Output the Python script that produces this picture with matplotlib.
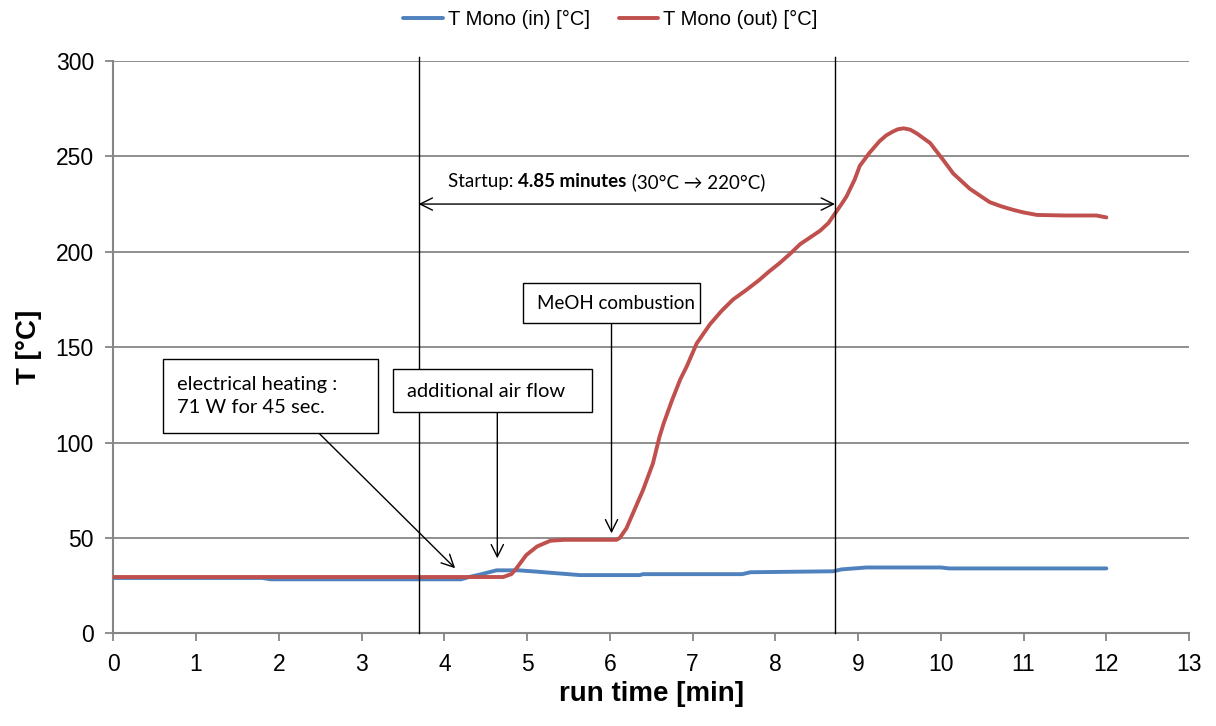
import matplotlib
matplotlib.use("Agg")
import matplotlib.pyplot as plt
from matplotlib.patches import Rectangle

# Reactor monolith temperatures during start-up
t_in = [0, 1.8, 1.9, 4.2, 4.3, 4.45, 4.63, 4.9, 5.12, 5.32, 5.64, 6.36, 6.4,
        7.6, 7.7, 8.7, 8.8, 9.1, 10.0, 10.1, 12.0]
T_in = [29, 29, 28.3, 28.3, 29.5, 31, 33, 33, 32.3, 31.6, 30.5, 30.5, 31,
        31, 32, 32.5, 33.5, 34.5, 34.5, 34, 34]

t_out = [0, 1, 2, 3, 4, 4.5, 4.71, 4.81, 4.87, 4.99, 5.12, 5.28, 5.45, 5.8,
         6.0, 6.08, 6.12, 6.2, 6.28, 6.4, 6.52, 6.6, 6.65, 6.75, 6.85, 6.93,
         7.05, 7.21, 7.35, 7.49, 7.65, 7.8, 7.92, 8.05, 8.18, 8.3, 8.42, 8.54,
         8.64, 8.72, 8.8, 8.86, 8.96, 9.02, 9.08, 9.14, 9.2, 9.26, 9.34, 9.42,
         9.48, 9.55, 9.63, 9.71, 9.79, 9.87, 9.95, 10.03, 10.15, 10.25, 10.35,
         10.47, 10.59, 10.73, 10.87, 11.0, 11.16, 11.5, 11.88, 12.0]
T_out = [29.5, 29.5, 29.5, 29.5, 29.5, 29.5, 29.5, 31, 34, 41, 45.5, 48.5,
         49, 49, 49, 49, 50, 55, 63, 75, 89, 103, 110, 122, 133, 140,
         152, 162, 169, 175, 180, 185, 189.5, 194, 199, 204, 207.5, 211,
         215, 220, 225, 229, 238, 245, 248.5, 252, 255, 258, 261, 263,
         264.2, 264.7, 264, 262, 259.5, 257, 252.5, 248, 241, 237, 233,
         229.5, 226, 223.8, 222, 220.6, 219.3, 219, 219, 218]

series_labels = ["T Mono (in) [°C]", "T Mono (out) [°C]"]
x_ticks = list(range(0, 14))
y_ticks = list(range(0, 301, 50))

startup_start = 3.69
startup_end = 8.72

plt.rcParams['font.family'] = ['Liberation Sans', 'DejaVu Sans']
note_font = ['Lato', 'DejaVu Sans']

fig = plt.figure(figsize=(12.16, 7.26), dpi=100)
ax = fig.add_axes([0.0932, 0.1277, 0.9848 - 0.0932 - 0.0069, 0.916 - 0.1277])

grid_c = '#868686'
for y in y_ticks[1:]:
    ax.axhline(y, color=grid_c, lw=1.3, zorder=1)

l_in, = ax.plot(t_in, T_in, color='#4F81BD', lw=2.8, zorder=3,
                solid_capstyle='round', solid_joinstyle='round')
l_out, = ax.plot(t_out, T_out, color='#C0504D', lw=2.8, zorder=4,
                 solid_capstyle='round', solid_joinstyle='round')

ax.set_xlim(0, 13)
ax.set_ylim(0, 300)
ax.set_xticks(x_ticks)
ax.set_yticks(y_ticks)
ax.tick_params(axis='both', labelsize=16.5, color=grid_c, width=1.3,
               length=6, direction='out', pad=8)
for side in ('top', 'right'):
    ax.spines[side].set_visible(False)
for side in ('left', 'bottom'):
    ax.spines[side].set_color(grid_c)
    ax.spines[side].set_linewidth(1.5)

ax.set_xlabel("run time [min]", fontsize=20, fontweight='bold', labelpad=4)
ax.set_ylabel("T [°C]", fontsize=20, fontweight='bold', labelpad=10)

# start-up window markers
for xv in (startup_start, startup_end):
    ax.axvline(xv, ymin=0, ymax=1.007, color='black', lw=1.0, zorder=5,
               clip_on=False)
ax.annotate("", xy=(startup_start, 225), xytext=(startup_end, 225),
            arrowprops=dict(arrowstyle='<->', color='black', lw=1.0,
                            mutation_scale=22, shrinkA=0, shrinkB=0),
            zorder=6)

# Startup label in mixed weights
fig.canvas.draw()
renderer = fig.canvas.get_renderer()
parts = [("Startup: ", 'normal'), ("4.85 minutes", 'bold'),
         (" (30°C → 220°C)", 'normal')]
x0 = 4.045
for txt, w in parts:
    t = ax.text(x0, 236.7, txt, fontsize=13.5, fontweight=w, family=note_font,
                va='center', ha='left', zorder=7)
    bb = t.get_window_extent(renderer=renderer)
    x1 = ax.transData.inverted().transform((bb.x1, bb.y0))[0]
    x0 = x1

# boxed notes
boxes = [
    ((0.60, 105.1), 3.20 - 0.60, 143.8 - 105.1,
     (0.766, 124.5), "electrical heating :\n71 W for 45 sec.", 14.5),
    ((3.38, 116.0), 5.78 - 3.38, 138.5 - 116.0,
     (3.545, 126.6), "additional air flow", 14.5),
    ((4.95, 162.7), 7.09 - 4.95, 183.6 - 162.7,
     (5.115, 173.0), "MeOH combustion", 13.5),
]
for (bx, by), bw, bh, (tx, ty), txt, fs in boxes:
    ax.add_patch(Rectangle((bx, by), bw, bh, facecolor='white',
                           edgecolor='black', lw=1.0, zorder=8))
    ax.text(tx, ty, txt, fontsize=fs, family=note_font, va='center',
            ha='left', linespacing=1.45, zorder=9)

arrow_kw = dict(arrowstyle='->', color='black', lw=1.0, mutation_scale=22,
                shrinkA=0, shrinkB=0)
ax.annotate("", xy=(4.13, 34.1), xytext=(2.48, 105.1),
            arrowprops=arrow_kw, zorder=7)
ax.annotate("", xy=(4.64, 39.3), xytext=(4.64, 116.0),
            arrowprops=arrow_kw, zorder=7)
ax.annotate("", xy=(6.02, 52.4), xytext=(6.02, 162.7),
            arrowprops=arrow_kw, zorder=7)

fig.legend([l_in, l_out], series_labels, loc='center',
           bbox_to_anchor=(0.502, 0.973), ncol=2, frameon=False,
           fontsize=14.5, handlelength=1.95, handletextpad=0.25,
           columnspacing=1.45)

fig.savefig("out.png", dpi=100)
